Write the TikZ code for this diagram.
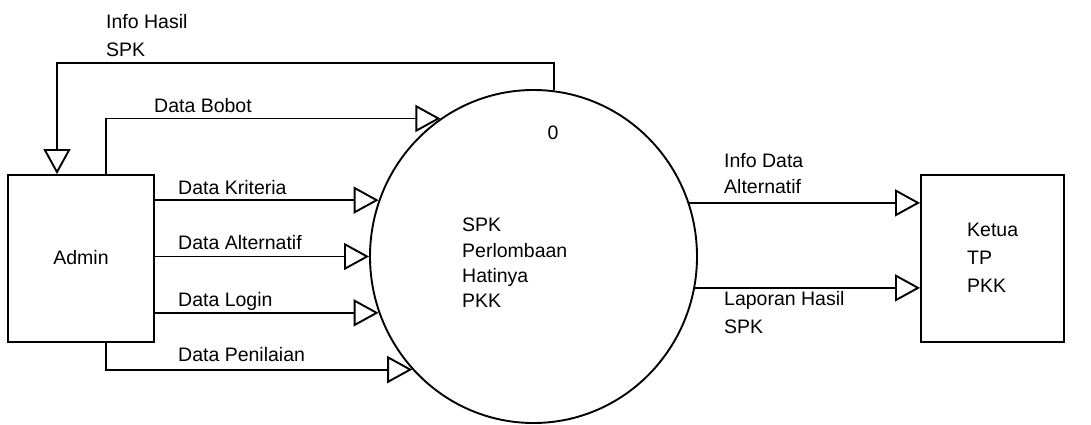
\documentclass[tikz,border=0pt]{standalone}
\usepackage{fontspec}
\setmainfont{Liberation Sans}
\usetikzlibrary{arrows.meta,shapes.geometric}
\tikzset{
  flow/.style={draw, line width=1.9pt, -{Triangle[open, length=25pt, width=27pt, line width=1.9pt]}},
  entity/.style={draw, line width=1.9pt, rectangle, inner sep=0pt},
  lbl/.style={inner sep=0pt, align=left, font=\fontsize{19.5}{28}\selectfont},
  lblb/.style={inner sep=0pt, align=left, font=\fontsize{19.5}{25.3}\selectfont}
}
\begin{document}
\begin{tikzpicture}[x=1pt, y=-1pt]
\useasboundingbox (0,0) rectangle (1091,425);
% nodes
\node[entity, minimum width=146pt, minimum height=167pt] (admin) at (81,258.5) {};
\node[lbl] (admintxt) at (81,258) {Admin};
\node[entity, minimum width=143pt, minimum height=167pt] (ketua) at (992.5,258.5) {};
\node[lbl, anchor=west] (ketuatxt) at (967,258) {Ketua\\TP\\PKK};
\node[draw, line width=1.9pt, ellipse, minimum width=327pt, minimum height=333pt, inner sep=0pt] (proc) at (533.5,256.5) {};
\node[lbl] (pnum) at (553,133) {0};
\node[lblb, anchor=west] (ptxt) at (462,263) {SPK\\Perlombaan\\Hatinya\\PKK};
% connectors
\draw[flow] (proc.83.6) |- (57,63) -- (admin.north -| 57,0);
\draw[flow] (admin.north -| 106,0) |- (proc.124.4);
\draw[flow] (admin.east |- proc.160.9) -- (proc.160.9);
\draw[flow] (admin.east |- proc.180.5) -- (proc.180.5);
\draw[flow] (admin.east |- proc.200.55) -- (proc.200.55);
\draw[flow] (admin.south -| 106,0) |- (proc.223.5);
\draw[flow] (proc.19.07) -- (ketua.west |- proc.19.07);
\draw[flow] (proc.349.6) -- (ketua.west |- proc.349.6);
% labels
\node[lbl, anchor=west] (l1) at (106,36) {Info Hasil\\SPK};
\node[lbl, anchor=base west] (l2) at (154,112.5) {Data Bobot};
\node[lbl, anchor=base west] (l3) at (178,194.5) {Data Kriteria};
\node[lbl, anchor=base west] (l4) at (178,249.5) {Data Alternatif};
\node[lbl, anchor=base west] (l5) at (178,306.5) {Data Login};
\node[lbl, anchor=base west] (l6) at (178,361.5) {Data Penilaian};
\node[lblb, anchor=west] (l7) at (724,173.5) {Info Data\\Alternatif};
\node[lbl, anchor=west] (l8) at (724,313) {Laporan Hasil\\SPK};
\end{tikzpicture}
\end{document}
